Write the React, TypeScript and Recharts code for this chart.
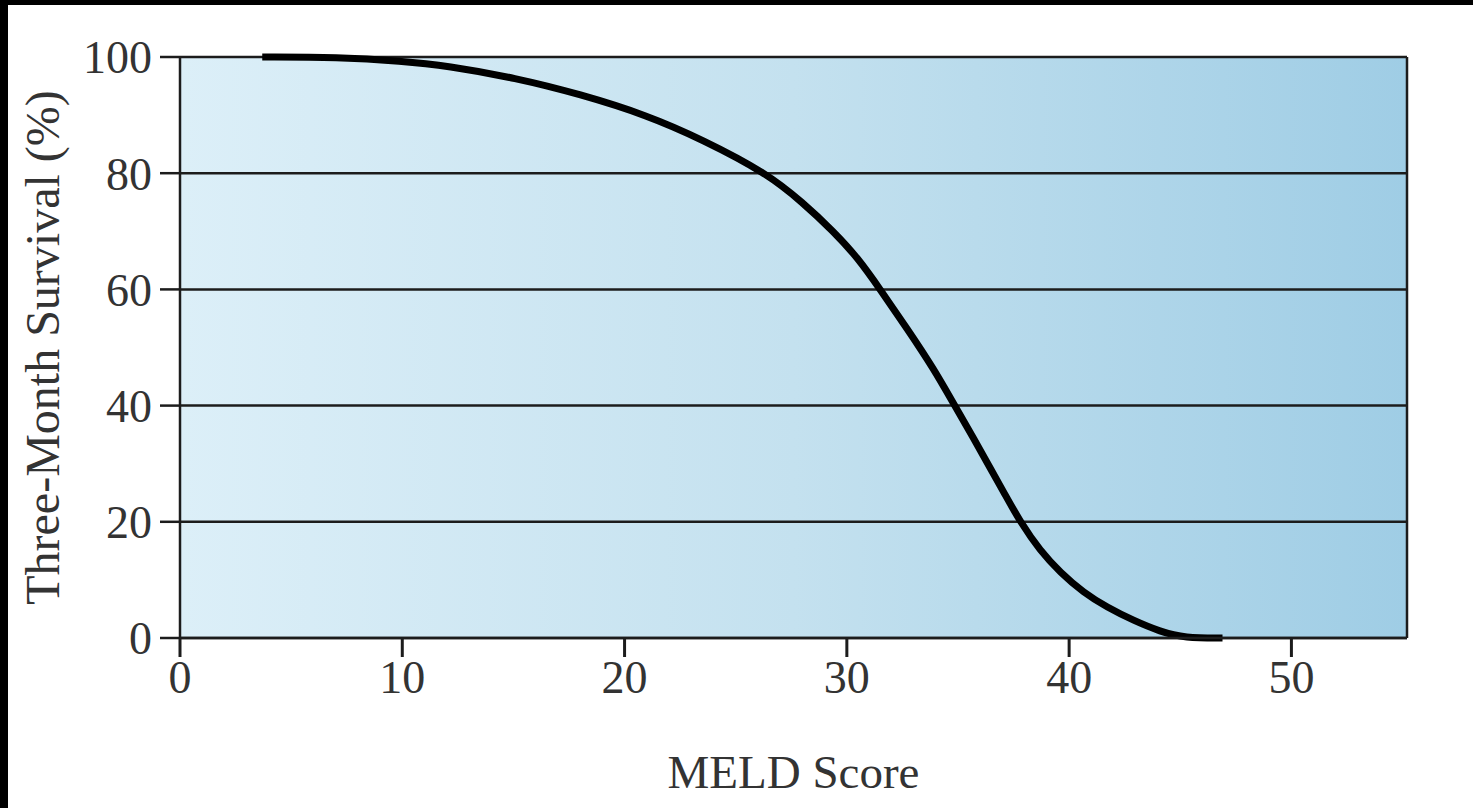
import React from 'react';
import { LineChart, Line, XAxis, YAxis, CartesianGrid, ReferenceLine } from 'recharts';

// values
const meldScores = [3.7, 7.1, 10, 12, 15.1, 18, 21, 23.5, 26.4, 28, 29.4, 30.5, 31.5, 32.7, 33.9, 34.85, 35.7, 36.5, 37.1, 37.8, 38.7, 39.6, 40.65, 41.7, 42.9, 44.1, 45.2, 46.9];
const survival = [100, 100, 99.3, 98.5, 96.4, 93.6, 90, 85.8, 80, 75, 70, 65.4, 60, 53.3, 46.4, 40, 34.4, 28.9, 24.8, 20, 15, 11.3, 7.8, 5.3, 3, 1.1, 0, 0];

const xTicks = [0, 10, 20, 30, 40, 50];
const yTicks = [0, 20, 40, 60, 80, 100];
const xMax = 55.2;

const data = meldScores.map((meld, i) => ({ meld, survival: survival[i] }));

const font = '"Liberation Serif", "Times New Roman", serif';
const ink = '#1c1c1c';
const tickStyle = { fontFamily: font, fontSize: 46, fill: '#333' };

export default function App() {
  return (
    <>
      <style>{`body{margin:0;background:#000;}`}</style>
      <div style={{ position: 'absolute', left: 8, top: 5, width: 1465, height: 803, background: '#fff' }}>
        <LineChart width={1465} height={803} data={data} margin={{ top: 52, right: 66, left: 0, bottom: 20 }}>
          <defs>
            <linearGradient id="bgFill" x1="0" y1="0" x2="1" y2="0">
              <stop offset="0%" stopColor="#dceff8" />
              <stop offset="50%" stopColor="#c4e1ef" />
              <stop offset="100%" stopColor="#9fcde5" />
            </linearGradient>
          </defs>
          <CartesianGrid vertical={false} fill="url(#bgFill)" fillOpacity={1} stroke={ink} strokeWidth={2.5} />
          <XAxis
            dataKey="meld"
            type="number"
            domain={[0, xMax]}
            ticks={xTicks}
            allowDataOverflow
            height={150}
            tickSize={19}
            tickMargin={3}
            tick={tickStyle}
            tickLine={{ stroke: ink, strokeWidth: 3 }}
            axisLine={{ stroke: ink, strokeWidth: 2.5 }}
            label={{ value: 'MELD Score', position: 'insideBottom', offset: 0, style: { fontFamily: font, fontSize: 47, fill: '#333' } }}
          />
          <YAxis
            type="number"
            domain={[0, 100]}
            ticks={yTicks}
            width={172}
            tickSize={20}
            tickMargin={8}
            tick={tickStyle}
            tickLine={{ stroke: ink, strokeWidth: 2.5 }}
            axisLine={{ stroke: ink, strokeWidth: 2.5 }}
            label={{
              value: 'Three-Month Survival (%)',
              angle: -90,
              position: 'insideLeft',
              offset: 34,
              style: { textAnchor: 'middle', fontFamily: font, fontSize: 48, fill: '#333' },
            }}
          />
          <ReferenceLine x={xMax} stroke={ink} strokeWidth={2.5} />
          <Line
            type="basis"
            dataKey="survival"
            stroke="#000"
            strokeWidth={7}
            strokeLinecap="butt"
            dot={false}
            isAnimationActive={false}
          />
        </LineChart>
      </div>
    </>
  );
}
